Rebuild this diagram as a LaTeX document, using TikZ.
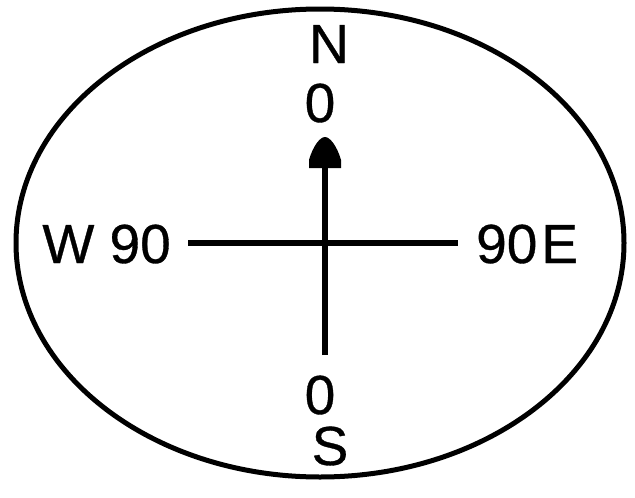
\documentclass[tikz,border=0pt]{standalone}
\usepackage{fontspec}
\setmainfont{Liberation Sans}[BoldFont=Liberation Sans,BoldFeatures={FakeBold=0.6}]
\usetikzlibrary{arrows.meta,shapes.geometric}
\begin{document}
\begin{tikzpicture}[x=1pt,y=-1pt,
  lbl/.style={inner sep=0pt,font=\fontsize{55}{60}\selectfont\bfseries},
  axis/.style={line width=5.5pt},
  rim/.style={draw,line width=5pt,ellipse,minimum width=608pt,minimum height=468pt,inner sep=0pt}]
\useasboundingbox (0,0) rectangle (635,498);
\node[rim] (rim) at (320,243) {};
\coordinate (c) at (325,243);
\coordinate (wend) at (188,243);
\coordinate (eend) at (458,243);
\coordinate (nend) at (325,137);
\coordinate (abase) at (325,168);
\coordinate (send) at (325,355);
\draw[axis] (wend) -- (eend);
\draw[axis] (send) -- (abase);
\fill ([xshift=-16pt]abase) -- ([xshift=-16pt,yshift=8pt]abase)
  .. controls ([xshift=-12pt,yshift=-9pt]nend) and ([xshift=-5pt]nend) .. (nend)
  .. controls ([xshift=5pt]nend) and ([xshift=12pt,yshift=-9pt]nend) .. ([xshift=16pt,yshift=8pt]abase)
  -- ([xshift=16pt]abase) -- cycle;
\node[lbl,anchor=base] (n) at (329,63) {N};
\node[lbl,anchor=base] (ntop) at (320,122) {0};
\node[lbl,anchor=base] (nbot) at (320,414) {0};
\node[lbl,anchor=base] (s) at (330,465) {S};
\node[lbl,anchor=base east] (w) at (171,263) {W 90};
\node[lbl,anchor=base west] (e) at (476,263) {90\kern4pt E};
\end{tikzpicture}
\end{document}
